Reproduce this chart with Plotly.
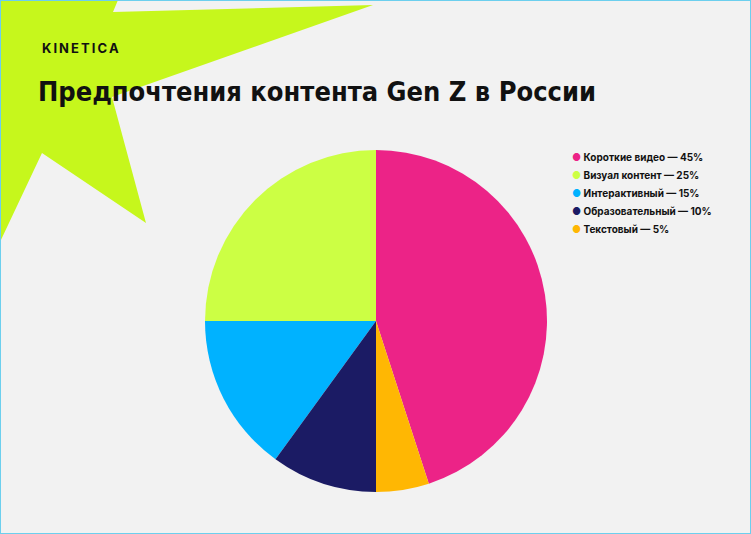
import plotly.graph_objects as go

# Data
categories = ['Короткие видео', 'Визуал контент', 'Интерактивный', 'Образовательный', 'Текстовый']
shares = [45, 25, 15, 10, 5]
colors = ['#EC2387', '#CCFF44', '#00B2FF', '#1B1B64', '#FFB703']

W, H = 751, 534

fig = go.Figure()

# Pie: first slice starts at 12 o'clock, slices run counterclockwise
fig.add_trace(go.Pie(
    labels=categories,
    values=shares,
    marker=dict(colors=colors, line=dict(width=0)),
    sort=False,
    direction='counterclockwise',
    rotation=0,
    textinfo='none',
    hoverinfo='label+percent',
    showlegend=False,
    domain=dict(x=[205/W, 547/W], y=[1-492/H, 1-150/H]),
))

# Legend as text rows with round markers
legend_rows = []
for i, (cat, val, col) in enumerate(zip(categories, shares, colors)):
    legend_rows.append(dict(
        text=f'<span style="color:{col}">●</span> {cat} — {val}%',
        x=570/W, y=1-(157 + 18*i)/H,
        xref='paper', yref='paper', xanchor='left', yanchor='middle',
        showarrow=False,
        font=dict(family='Inter', size=10, color='#111111', weight='bold'),
    ))

# Background star (lime burst, top left)
star = [(0, 0), (118, 0), (113, 12), (373, 5), (112, 97), (146, 223), (42, 153), (0, 242)]
path = 'M ' + ' L '.join(f'{x/W:.4f},{1-y/H:.4f}' for x, y in star) + ' Z'

fig.update_layout(
    width=W, height=H,
    margin={'l': 0, 'r': 0, 't': 0, 'b': 0},
    paper_bgcolor='#F2F2F2',
    plot_bgcolor='rgba(0,0,0,0)',
    font=dict(family='Inter', color='#111111'),
    shapes=[
        dict(type='path', path=path, xref='paper', yref='paper',
             fillcolor='#C6F71C', line=dict(width=0), layer='below'),
        dict(type='rect', xref='paper', yref='paper', x0=0, y0=0, x1=1, y1=1,
             line=dict(color='#6CCFEE', width=2), layer='above'),
    ],
    annotations=[
        dict(text='K\u2009I\u2009N\u2009E\u2009T\u2009I\u2009C\u2009A', x=40/W, y=1-48/H,
             xref='paper', yref='paper', xanchor='left', yanchor='middle',
             showarrow=False,
             font=dict(family='Inter', size=13, color='#111111', weight='bold')),
        dict(text='Предпочтения контента Gen Z в России', x=36/W, y=1-92/H,
             xref='paper', yref='paper', xanchor='left', yanchor='middle',
             showarrow=False,
             font=dict(family='DejaVu Sans Condensed', size=27, color='#111111', weight='bold')),
    ] + legend_rows,
)

fig.write_html('out.html', config={'displayModeBar': False},
               post_script="document.body.style.margin='0';")
